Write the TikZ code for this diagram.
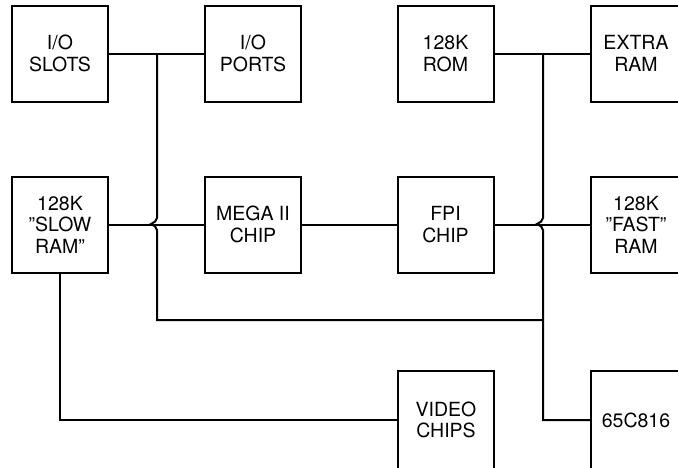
\documentclass[tikz,border=0pt]{standalone}
\usepackage{fontspec}
\setmainfont{TeX Gyre Heros}
\usepackage{tikz}
\usetikzlibrary{positioning}

\begin{document}
\begin{tikzpicture}[x=1pt,y=-1pt,line width=2pt,font=\fontsize{19.5}{21.5}\selectfont,
  blk/.style={draw,minimum width=96pt,minimum height=96pt,align=center,inner sep=0pt},
  edge/.style={blk,minimum width=90pt},
  low/.style={minimum height=98pt}]
  \useasboundingbox (0,0) rectangle (678,467);
  % top row
  \node[blk] (slots) at (60,53.5) {I/O\\SLOTS};
  \node[blk] (ports) at (253,53.5) {I/O\\PORTS};
  \node[blk] (rom) at (445.5,53.5) {128K\\ROM};
  \node[edge] (extra) at (636,53.5) {EXTRA\\RAM};
  % middle row
  \node[blk] (slow) at (60,224.5) {128K\\"SLOW\\RAM"};
  \node[blk] (mega) at (253,224.5) {MEGA II\\CHIP};
  \node[blk] (fpi) at (445.5,224.5) {FPI\\CHIP};
  \node[edge] (fast) at (636,224.5) {128K\\"FAST"\\RAM};
  % bottom row
  \node[blk,low] (video) at (446,420) {VIDEO\\CHIPS};
  \node[edge,low] (cpu) at (636,420) {65C816};
  \coordinate (busL) at (157,53.5);
  \coordinate (busR) at (543,53.5);
  \coordinate (busB) at (543,320);
  \draw (slots) -- (ports);
  \draw (rom) -- (extra);
  \draw (slow) -- (mega);
  \draw (mega) -- (fpi);
  \draw (fpi) -- (fast);
  \draw (slow) |- (video);
  % buses, hopping over the middle lines
  \draw (busL) -- ++(0,164.5) to[out=-90,in=30] ++(-6,6) to[out=-30,in=90] ++(6,6) |- (busB);
  \draw (busR) -- ++(0,164.5) to[out=-90,in=30] ++(-6,6) to[out=-30,in=90] ++(6,6) |- (cpu);
\end{tikzpicture}
\end{document}
